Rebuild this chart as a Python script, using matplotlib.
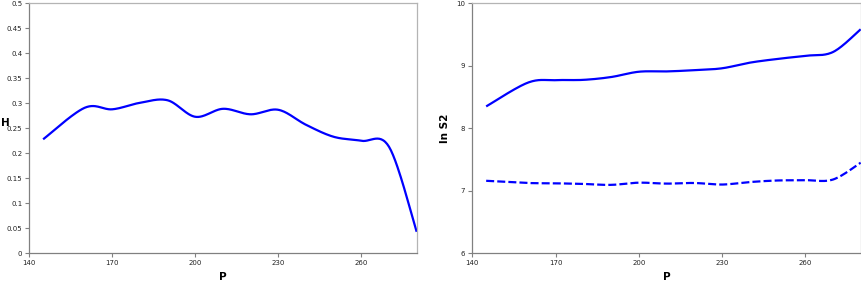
import numpy as np
import matplotlib
matplotlib.use("Agg")
import matplotlib.pyplot as plt

# ---- data ----
P = [145, 160, 170, 180, 190, 200, 210, 220, 230, 240, 250, 260, 270, 280]
H = [0.228, 0.291, 0.288, 0.301, 0.306, 0.273, 0.289, 0.278, 0.287, 0.257, 0.233, 0.225, 0.213, 0.043]
lnS2_solid = [8.35, 8.73, 8.77, 8.775, 8.82, 8.905, 8.91, 8.93, 8.96, 9.05, 9.11, 9.16, 9.22, 9.585]
lnS2_dashed = [7.16, 7.125, 7.12, 7.11, 7.095, 7.13, 7.115, 7.125, 7.10, 7.14, 7.165, 7.17, 7.18, 7.45]

x_ticks = [140, 170, 200, 230, 260]
h_ticks = [0, 0.05, 0.1, 0.15, 0.2, 0.25, 0.3, 0.35, 0.4, 0.45, 0.5]
h_ticklabels = ["0", "0.05", "0.1", "0.15", "0.2", "0.25", "0.3", "0.35", "0.4", "0.45", "0.5"]
s_ticks = [6, 7, 8, 9, 10]


def smooth(x, y, n=30):
    """Excel-style smoothed line (uniform Catmull-Rom / Bezier through points)."""
    pts = np.column_stack([x, y]).astype(float)
    ext = np.vstack([pts[0], pts, pts[-1]])
    out = []
    t = np.linspace(0, 1, n)[:, None]
    for i in range(len(pts) - 1):
        p0, p1, p2, p3 = ext[i], ext[i + 1], ext[i + 2], ext[i + 3]
        c1 = p1 + (p2 - p0) / 6.0
        c2 = p2 - (p3 - p1) / 6.0
        seg = ((1 - t) ** 3) * p1 + 3 * ((1 - t) ** 2) * t * c1 + 3 * (1 - t) * t ** 2 * c2 + t ** 3 * p2
        out.append(seg if i == 0 else seg[1:])
    s = np.vstack(out)
    return s[:, 0], s[:, 1]


fig = plt.figure(figsize=(8.62, 2.86), dpi=100)
fig.patch.set_facecolor("white")

W, Hh = 862.0, 286.0
ax1 = fig.add_axes([29.3 / W, 1 - 253.3 / Hh, (416.7 - 29.3) / W, 250 / Hh])
ax2 = fig.add_axes([472.3 / W, 1 - 253.3 / Hh, (860.7 - 472.3) / W, 250 / Hh])

blue = "#0000FF"

xs, ys = smooth(P, H)
ax1.plot(xs, ys, color=blue, lw=1.6, solid_capstyle="butt")

xs, ys = smooth(P, lnS2_solid)
ax2.plot(xs, ys, color=blue, lw=1.6, solid_capstyle="butt")
xs, ys = smooth(P, lnS2_dashed)
ax2.plot(xs, ys, color=blue, lw=1.6, dashes=(3.6, 1.4))

for ax in (ax1, ax2):
    ax.set_xlim(140, 280)
    ax.set_xticks(x_ticks)
    ax.set_xticklabels([str(v) for v in x_ticks])
    ax.tick_params(direction="out", length=3, width=0.8, color="#808080",
                   labelsize=5, labelcolor="#222222", pad=2)
    ax.spines["left"].set_color("#808080")
    ax.spines["bottom"].set_color("#808080")
    ax.spines["top"].set_color("#b4b4b4")
    ax.spines["right"].set_color("#b4b4b4")
    for s in ax.spines.values():
        s.set_linewidth(0.9)
    ax.set_xlabel("P", fontsize=7.5, fontweight="bold", labelpad=4)

ax1.set_ylim(0, 0.5)
ax1.set_yticks(h_ticks)
ax1.set_yticklabels(h_ticklabels)
ax1.set_ylabel("H", fontsize=7.5, fontweight="bold", rotation=0, labelpad=0)
ax1.yaxis.set_label_coords(-0.062, 0.5)

ax2.set_ylim(6, 10)
ax2.set_yticks(s_ticks)
ax2.set_yticklabels([str(v) for v in s_ticks])
ax2.set_ylabel("ln S2", fontsize=7.5, fontweight="bold")
ax2.yaxis.set_label_coords(-0.057, 0.5)

fig.savefig("out.png", dpi=100)
